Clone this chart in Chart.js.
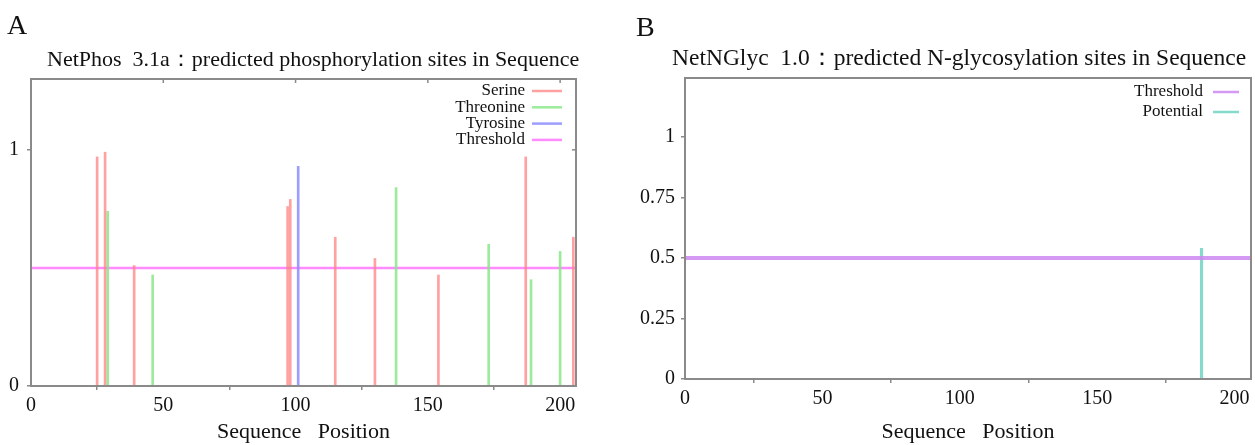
<!DOCTYPE html>
<html>
<head>
<meta charset="utf-8">
<script src="https://cdn.jsdelivr.net/npm/chart.js@4.4.1/dist/chart.umd.min.js"></script>
<style>
  body { margin: 0; background: #fff; width: 1255px; height: 445px; overflow: hidden; position: relative;
         font-family: "Liberation Serif", "Times New Roman", serif; color: #111; }
  .panel { position: absolute; top: 0; height: 445px; }
  .letter { position: absolute; font-size: 28px; line-height: 1; }
  .title { position: absolute; line-height: 1; white-space: pre; }
</style>
</head>
<body>
<div class="panel" style="left:0;width:600px"><canvas id="phos" width="600" height="445"></canvas></div>
<div class="panel" style="left:610px;width:645px"><canvas id="glyc" width="645" height="445"></canvas></div>
<div class="letter" style="left:7px;top:11px">A</div>
<div class="title" style="left:47px;top:48px;font-size:22px">NetPhos  3.1a：predicted phosphorylation sites in Sequence</div>
<div class="letter" style="left:636px;top:13px">B</div>
<div class="title" style="left:672px;top:46px;font-size:23.5px">NetNGlyc  1.0：predicted N-glycosylation sites in Sequence</div>

<script>
// ── Shared x axis ──────────────────────────────────────────────────
const seqLength = 206;
const xTicks = [0, 50, 100, 150, 200];
const xTitle = 'Sequence   Position';

// ── A: NetPhos 3.1a ────────────────────────────────────────────────
const serinePos = [25, 28, 39, 97, 98, 115, 130, 154, 187, 205];
const serineScore = [0.97, 0.99, 0.51, 0.76, 0.79, 0.63, 0.54, 0.47, 0.97, 0.63];
const threoninePos = [29, 46, 138, 173, 189, 200];
const threonineScore = [0.74, 0.47, 0.84, 0.60, 0.45, 0.57];
const tyrosinePos = [101];
const tyrosineScore = [0.93];
const phosThreshold = 0.5;
const phosYTicks = [0, 1];

// ── B: NetNGlyc 1.0 ────────────────────────────────────────────────
const glycoPos = [188];
const glycoScore = [0.54];
const glycoThreshold = 0.5;
const glycoYTicks = [0, 0.25, 0.5, 0.75, 1];

const FONT = '"Liberation Serif", "Times New Roman", serif';
const AXIS_GREY = '#8a8a8a';

function points(pos, vals) {
  return pos.map(function (x, i) { return { x: x, y: vals[i] }; });
}

function thresholdLine(value) {
  return [{ x: 0, y: value }, { x: seqLength, y: value }];
}

// ── Frame + in-plot legend ─────────────────────────────────────────
const framePlugin = {
  id: 'frame',
  afterDatasetsDraw(chart, args, opts) {
    const ctx = chart.ctx;
    const a = chart.chartArea;
    ctx.save();
    ctx.strokeStyle = AXIS_GREY;
    ctx.lineWidth = 2;
    ctx.strokeRect(a.left, a.top, a.right - a.left, a.bottom - a.top);

    // mirrored ticks on top and right
    if (opts.mirror) {
      ctx.lineWidth = 1.5;
      xTicks.forEach(function (v) {
        const px = chart.scales.x.getPixelForValue(v);
        ctx.beginPath(); ctx.moveTo(px, a.top); ctx.lineTo(px, a.top + 4); ctx.stroke();
      });
      chart.scales.y.ticks.forEach(function (t) {
        const py = chart.scales.y.getPixelForValue(t.value);
        ctx.beginPath(); ctx.moveTo(a.right, py); ctx.lineTo(a.right - 4, py); ctx.stroke();
      });
    }

    ctx.font = '17px ' + FONT;
    ctx.textAlign = 'right';
    ctx.textBaseline = 'middle';
    chart.data.datasets.forEach(function (ds, i) {
      const y = a.top + opts.top + i * opts.spacing;
      ctx.fillStyle = '#111';
      ctx.fillText(ds.label, a.right - opts.textRight, y);
      ctx.strokeStyle = ds.borderColor;
      ctx.lineWidth = 2.5;
      ctx.beginPath();
      ctx.moveTo(a.right - opts.lineFrom, y);
      ctx.lineTo(a.right - opts.lineTo, y);
      ctx.stroke();
    });
    ctx.restore();
  }
};

function makeScales(yMax, yTicks, yWidth, yPad, xHeight) {
  return {
    x: {
      type: 'linear', min: 0, max: seqLength, offset: false,
      afterBuildTicks: function (s) { s.ticks = xTicks.map(function (v) { return { value: v }; }); },
      afterFit: function (s) { s.height = xHeight; },
      grid: { display: true, drawOnChartArea: false, tickLength: 4, color: AXIS_GREY, lineWidth: 1.5 },
      border: { display: false },
      ticks: { color: '#111', font: { family: FONT, size: 20 }, padding: 4, maxRotation: 0, autoSkip: false,
               callback: function (v) { return String(v); } },
      title: { display: true, text: xTitle, color: '#111', font: { family: FONT, size: 22 }, padding: 0 }
    },
    y: {
      min: 0, max: yMax,
      afterBuildTicks: function (s) { s.ticks = yTicks.map(function (v) { return { value: v }; }); },
      afterFit: function (s) { s.width = yWidth; },
      grid: { display: true, drawOnChartArea: false, tickLength: 4, color: AXIS_GREY, lineWidth: 1.5 },
      border: { display: false },
      ticks: { color: '#111', font: { family: FONT, size: 20 }, padding: yPad,
               callback: function (v) { return String(v); } }
    }
  };
}

function barSet(label, color, pos, vals, thickness) {
  return {
    type: 'bar', label: label, data: points(pos, vals),
    backgroundColor: color, borderColor: color, borderWidth: 0,
    barThickness: thickness, grouped: false
  };
}

function lineSet(label, color, value, width) {
  return {
    type: 'line', label: label, data: thresholdLine(value),
    borderColor: color, borderWidth: width, pointRadius: 0, fill: false
  };
}

const baseOptions = {
  responsive: false,
  animation: false,
  plugins: { legend: { display: false }, tooltip: { enabled: false } }
};

// ── Panel A ────────────────────────────────────────────────────────
new Chart(document.getElementById('phos'), {
  type: 'bar',
  data: {
    datasets: [
      barSet('Serine', 'rgba(255,130,130,0.75)', serinePos, serineScore, 2),
      barSet('Threonine', 'rgba(130,230,130,0.8)', threoninePos, threonineScore, 2),
      barSet('Tyrosine', 'rgba(140,140,255,0.85)', tyrosinePos, tyrosineScore, 2),
      lineSet('Threshold', 'rgba(255,120,255,0.85)', phosThreshold, 2.5)
    ]
  },
  options: Object.assign({}, baseOptions, {
    layout: { padding: { top: 79, right: 24, left: 0, bottom: 0 } },
    scales: makeScales(1.3, phosYTicks, 31, 8, 59),
    plugins: Object.assign({}, baseOptions.plugins, {
      frame: { mirror: true, top: 12, spacing: 16.3, textRight: 51, lineFrom: 44, lineTo: 14 }
    })
  }),
  plugins: [framePlugin]
});

// ── Panel B ────────────────────────────────────────────────────────
new Chart(document.getElementById('glyc'), {
  type: 'bar',
  data: {
    datasets: [
      lineSet('Threshold', 'rgba(205,135,240,0.85)', glycoThreshold, 4),
      barSet('Potential', 'rgba(120,215,195,0.9)', glycoPos, glycoScore, 2.5)
    ]
  },
  options: Object.assign({}, baseOptions, {
    layout: { padding: { top: 78, right: 4, left: 0, bottom: 0 } },
    scales: makeScales(1.245, glycoYTicks, 75, 6, 66),
    plugins: Object.assign({}, baseOptions.plugins, {
      frame: { mirror: false, top: 14, spacing: 20, textRight: 48, lineFrom: 38, lineTo: 12 }
    })
  }),
  plugins: [framePlugin]
});
</script>
</body>
</html>
